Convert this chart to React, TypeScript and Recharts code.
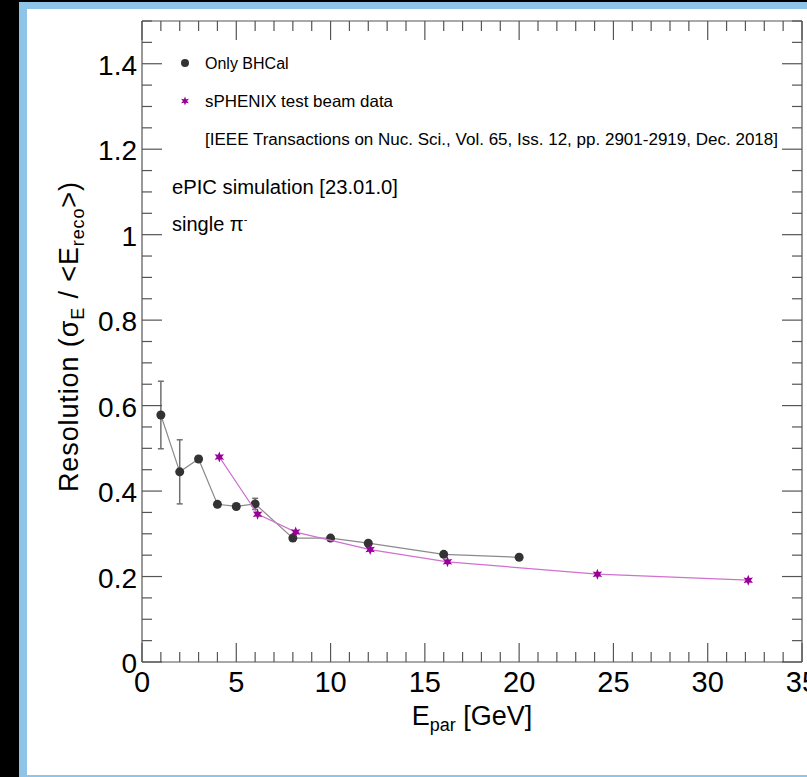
import React from "react";
import { ScatterChart, Scatter, XAxis, YAxis, ErrorBar } from "recharts";

// Only BHCal (ePIC simulation)
const bhcalE = [1, 2, 3, 4, 5, 6, 8, 10, 12, 16, 20];
const bhcalRes = [0.578, 0.445, 0.475, 0.369, 0.364, 0.37, 0.29, 0.29, 0.278, 0.252, 0.245];
const bhcalErr = [0.079, 0.075, 0.006, 0.006, 0.006, 0.013, 0.006, 0.005, 0.005, 0.004, 0.004];

// sPHENIX test beam data
const sphenixE = [4.1, 6.13, 8.15, 12.1, 16.2, 24.15, 32.15];
const sphenixRes = [0.48, 0.346, 0.304, 0.263, 0.2345, 0.2056, 0.1915];

const xMajor = [0, 5, 10, 15, 20, 25, 30, 35];
const yMajor = [0, 0.2, 0.4, 0.6, 0.8, 1, 1.2, 1.4];
const xTicks = Array.from({ length: 36 }, (_, i) => i);
const yTicks = Array.from({ length: 31 }, (_, i) => +(i * 0.05).toFixed(2));

const bhcalData = bhcalE.map((e, i) => ({ e, res: bhcalRes[i], err: bhcalErr[i] }));
const sphenixData = sphenixE.map((e, i) => ({ e, res: sphenixRes[i] }));

const FONT = "'Liberation Sans', Arial, Helvetica, sans-serif";
const AXIS = "#555";

const isMajorX = (v: number) => xMajor.includes(v);
const isMajorY = (v: number) => yMajor.some((m) => Math.abs(m - v) < 1e-6);

function BottomTick({ x, y, payload }: any) {
  const v = payload.value;
  const major = isMajorX(v);
  return (
    <g>
      <line x1={x} x2={x} y1={y} y2={y - (major ? 19 : 10)} stroke={AXIS} strokeWidth={1.2} />
      {major && (
        <text x={x} y={y + 30} textAnchor="middle" fontSize={29} fontFamily={FONT} fill="#000">
          {v}
        </text>
      )}
    </g>
  );
}

function TopTick({ x, y, payload }: any) {
  const major = isMajorX(payload.value);
  return <line x1={x} x2={x} y1={y} y2={y + (major ? 19 : 10)} stroke={AXIS} strokeWidth={1.2} />;
}

function LeftTick({ x, y, payload }: any) {
  const v = payload.value;
  const major = isMajorY(v);
  const showLabel = major && v < 1.45;
  return (
    <g>
      <line x1={x} x2={x + (major ? 20 : 10)} y1={y} y2={y} stroke={AXIS} strokeWidth={1.2} />
      {showLabel && (
        <text x={x - 5} y={y + 11} textAnchor="end" fontSize={28} fontFamily={FONT} fill="#000">
          {v === 0 ? "0" : String(Number(v.toFixed(1)))}
        </text>
      )}
    </g>
  );
}

function RightTick({ x, y, payload }: any) {
  const major = isMajorY(payload.value);
  return <line x1={x} x2={x - (major ? 20 : 10)} y1={y} y2={y} stroke={AXIS} strokeWidth={1.2} />;
}

function Dot({ cx, cy }: any) {
  return <circle cx={cx} cy={cy} r={4.5} fill="#333" />;
}

function starPath(cx: number, cy: number, ro: number, ri: number) {
  const pts: string[] = [];
  for (let i = 0; i < 12; i++) {
    const r = i % 2 === 0 ? ro : ri;
    const a = (Math.PI / 6) * i - Math.PI / 2;
    pts.push(`${(cx + r * Math.cos(a)).toFixed(2)},${(cy + r * Math.sin(a)).toFixed(2)}`);
  }
  return pts.join(" ");
}

function Star({ cx, cy }: any) {
  return <polygon points={starPath(cx, cy, 5.5, 2.6)} fill="#990099" />;
}

export default function App() {
  return (
    <div style={{ position: "absolute", left: 0, top: 0, width: 807, height: 777, background: "#000", overflow: "hidden" }}>
      <div style={{ position: "absolute", left: 19, top: 2, right: 0, bottom: 0, background: "#8dc4e8" }} />
      <div style={{ position: "absolute", left: 27, top: 9, width: 780, height: 766, background: "#fff" }} />
      <div style={{ position: "absolute", left: 0, top: 0 }}>
        <ScatterChart width={807} height={777} margin={{ top: 20, right: 4, bottom: 55, left: 82 }}>
          <XAxis
            xAxisId="b"
            dataKey="e"
            type="number"
            domain={[0, 35]}
            ticks={xTicks}
            interval={0}
            height={60}
            tickSize={0}
            tickMargin={0}
            tickLine={false}
            axisLine={{ stroke: AXIS, strokeWidth: 1.2 }}
            tick={<BottomTick />}
          />
          <XAxis
            xAxisId="t"
            dataKey="e"
            orientation="top"
            type="number"
            domain={[0, 35]}
            ticks={xTicks}
            interval={0}
            height={1}
            tickSize={0}
            tickMargin={0}
            tickLine={false}
            axisLine={{ stroke: AXIS, strokeWidth: 1.2 }}
            tick={<TopTick />}
          />
          <YAxis
            yAxisId="l"
            dataKey="res"
            type="number"
            domain={[0, 1.5]}
            ticks={yTicks}
            interval={0}
            width={60}
            tickSize={0}
            tickMargin={0}
            tickLine={false}
            axisLine={{ stroke: AXIS, strokeWidth: 1.2 }}
            tick={<LeftTick />}
          />
          <YAxis
            yAxisId="r"
            dataKey="res"
            orientation="right"
            type="number"
            domain={[0, 1.5]}
            ticks={yTicks}
            interval={0}
            width={1}
            tickSize={0}
            tickMargin={0}
            tickLine={false}
            axisLine={{ stroke: AXIS, strokeWidth: 1.2 }}
            tick={<RightTick />}
          />
          <Scatter
            name="Only BHCal"
            data={bhcalData}
            xAxisId="b"
            yAxisId="l"
            line={{ stroke: "#8a8a8a", strokeWidth: 1.2 }}
            shape={<Dot />}
            isAnimationActive={false}
          >
            <ErrorBar dataKey="err" direction="y" width={3} stroke="#707070" strokeWidth={1.5} isAnimationActive={false} />
          </Scatter>
          <Scatter
            name="sPHENIX test beam data"
            data={sphenixData}
            xAxisId="t"
            yAxisId="r"
            line={{ stroke: "#d070d0", strokeWidth: 1.2 }}
            shape={<Star />}
            isAnimationActive={false}
          />
        </ScatterChart>
      </div>
      <svg width={807} height={777} style={{ position: "absolute", left: 0, top: 0, pointerEvents: "none" }} fontFamily={FONT}>
        <circle cx={185} cy={63} r={4} fill="#333" />
        <text x={205} y={69} fontSize={16}>Only BHCal</text>
        <polygon points={starPath(185, 101, 4.5, 2.1)} fill="#990099" />
        <text x={205} y={107} fontSize={16.5} textLength={188} lengthAdjust="spacingAndGlyphs">
          sPHENIX test beam data
        </text>
        <text x={205} y={145} fontSize={16} textLength={573} lengthAdjust="spacingAndGlyphs">
          [IEEE Transactions on Nuc. Sci., Vol. 65, Iss. 12, pp. 2901-2919, Dec. 2018]
        </text>
        <text x={172} y={194} fontSize={20} textLength={226} lengthAdjust="spacingAndGlyphs">
          ePIC simulation [23.01.0]
        </text>
        <text x={172} y={231} fontSize={20}>
          single π<tspan dy={-8} fontSize={11}>-</tspan>
        </text>
        <text x={472} y={725} textAnchor="middle" fontSize={27}>
          E<tspan dy={6} fontSize={18}>par</tspan>
          <tspan dy={-6}> [GeV]</tspan>
        </text>
        <text
          x={78}
          y={337}
          transform="rotate(-90 78 337)"
          textAnchor="middle"
          fontSize={27}
          textLength={310}
          lengthAdjust="spacing"
        >
          Resolution (σ<tspan dy={6} fontSize={18}>E</tspan>
          <tspan dy={-6}> / &lt;E</tspan>
          <tspan dy={6} fontSize={18}>reco</tspan>
          <tspan dy={-6}>&gt;)</tspan>
        </text>
      </svg>
    </div>
  );
}
